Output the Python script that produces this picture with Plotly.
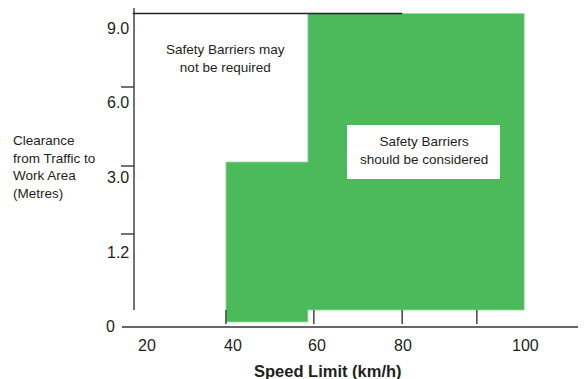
import plotly.graph_objects as go

# ---- data ----
speed_labels = ["20", "40", "60", "80", "100"]
speed_label_pos = [19.9, 40.1, 59.8, 80.0, 108.6]      # km/h positions of labels (schematic)
speed_ticks = [38.5, 59.1, 79.8, 97.3]

clearance_labels = ["0", "1.2", "3.0", "6.0", "9.0"]
clearance_levels = [0, 1, 2, 3, 4]                      # equally spaced schematic levels
clearance_ticks = [1.244, 2.154, 3.211, 4.281]

# green "barriers should be considered" region (outline of the stepped zone)
zone_x = [38.5, 57.7, 57.7, 108.4, 108.4, 57.7, 57.7, 38.5, 38.5]
zone_y = [0.067, 0.067, 0.227, 0.227, 4.194, 4.194, 2.207, 2.207, 0.067]

GREEN = "#4cb95b"
INK = "#231f20"
FONT = "Liberation Sans, Arial, sans-serif"

fig = go.Figure()

fig.add_trace(go.Scatter(
    x=zone_x, y=zone_y, mode="lines", fill="toself", fillcolor=GREEN,
    line=dict(color="#9ad8a3", width=0.8), hoverinfo="skip", showlegend=False))

shapes = []
shapes.append(dict(type="rect", xref="x", yref="y", x0=66.87, x1=102.73, y0=1.98, y1=2.702,
                   fillcolor="white", line=dict(width=0), layer="above"))
shapes.append(dict(type="line", xref="x", yref="y", x0=16.95, x1=16.95, y0=0.227, y1=4.281,
                   line=dict(color="#444", width=1.5), layer="above"))
shapes.append(dict(type="line", xref="x", yref="y", x0=14.14, x1=123, y0=0, y1=0,
                   line=dict(color="#333", width=1.5), layer="above"))
shapes.append(dict(type="line", xref="x", yref="y", x0=16.65, x1=79.8, y0=4.194, y1=4.194,
                   line=dict(color="#222", width=1.5), layer="above"))
for t in clearance_ticks:
    shapes.append(dict(type="line", xref="x", yref="y", x0=13.9, x1=16.95, y0=t, y1=t,
                       line=dict(color="#444", width=1.5), layer="above"))
for t in speed_ticks:
    shapes.append(dict(type="line", xref="x", yref="y", x0=t, x1=t, y0=0.04, y1=0.227,
                       line=dict(color="#444", width=1.5), layer="above"))

annotations = []
label_x = [12.97, 16.25, 16.25, 16.25, 16.25]
for lab, lev, lx in zip(clearance_labels, clearance_levels, label_x):
    annotations.append(dict(x=lx, y=lev, text=lab, xref="x", yref="y", showarrow=False,
                            xanchor="right", yanchor="middle",
                            font=dict(family=FONT, size=16, color=INK)))
for lab, pos in zip(speed_labels, speed_label_pos):
    annotations.append(dict(x=pos, y=-0.254, text=lab, xref="x", yref="y", showarrow=False,
                            xanchor="center", yanchor="middle",
                            font=dict(family=FONT, size=16, color=INK)))
annotations.append(dict(x=62.42, y=-0.589, text="<b>Speed Limit (km/h)</b>", xref="x", yref="y",
                        showarrow=False, xanchor="center", yanchor="middle",
                        font=dict(family=FONT, size=16.5, color=INK)))
annotations.append(dict(x=-11.87, y=2.14, text="Clearance<br>from Traffic to<br>Work Area<br>(Metres)",
                        xref="x", yref="y", showarrow=False, xanchor="left", yanchor="middle",
                        align="left", font=dict(family=FONT, size=13.5, color=INK)))
annotations.append(dict(x=38.5, y=3.599, text="Safety Barriers may<br>not be required",
                        xref="x", yref="y", showarrow=False, xanchor="center", yanchor="middle",
                        align="center", font=dict(family=FONT, size=13.5, color=INK)))
annotations.append(dict(x=84.8, y=2.368, text="Safety Barriers<br>should be considered",
                        xref="x", yref="y", showarrow=False, xanchor="center", yanchor="middle",
                        align="center", font=dict(family=FONT, size=13.5, color=INK)))

# page has an 8px body margin: size the figure to the visible area
fig.update_layout(
    width=578, height=371,
    margin=dict(l=0, r=0, t=0, b=0),
    paper_bgcolor="white", plot_bgcolor="white",
    xaxis=dict(range=[-12.58, 122.88], visible=False, fixedrange=True),
    yaxis=dict(range=[-0.696, 4.268], visible=False, fixedrange=True),
    shapes=shapes, annotations=annotations, showlegend=False,
)

fig.write_html("out.html")
